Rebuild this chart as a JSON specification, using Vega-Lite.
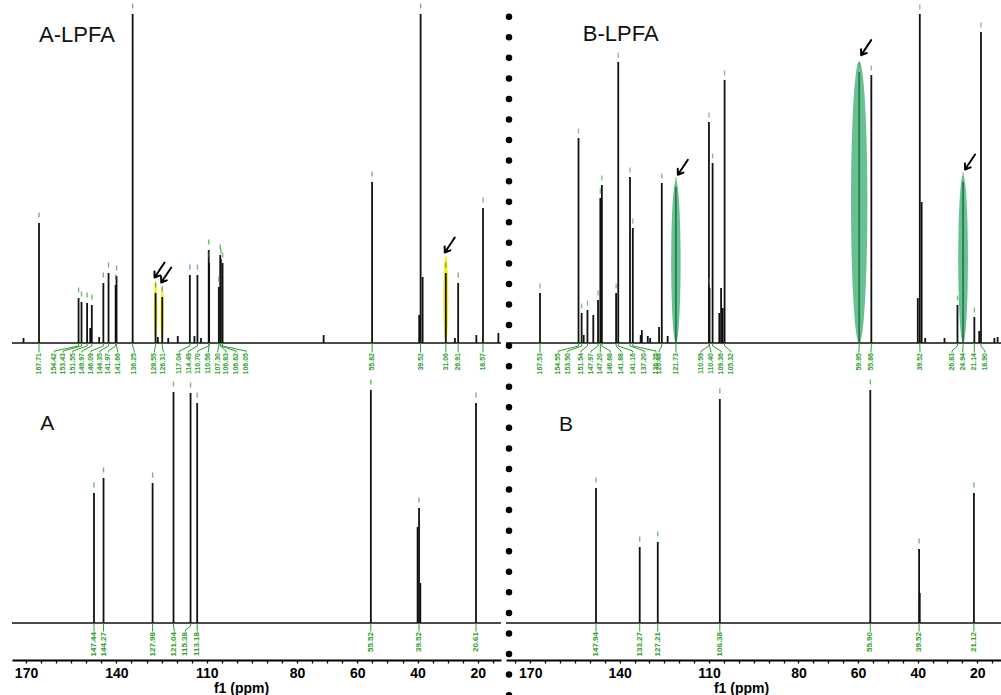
{
"$schema": "https://vega.github.io/schema/vega-lite/v6.json",
"padding": {"left": 11, "top": 0, "right": 0, "bottom": 0},
"background": "white",
"bounds": "flush",
"columns": 2,
"spacing": {"row": 0, "column": 5},
"config": {"view": {"stroke": null}, "font": "Liberation Sans"},
"datasets": {
"tl": [
{"ppm":172.9,"intensity":5},
{"ppm":167.71,"intensity":120,"label":"167.71","label_at":167.71},
{"ppm":154.42,"intensity":45,"label":"154.42","label_at":162.57},
{"ppm":153.43,"intensity":41,"label":"153.43","label_at":159.55},
{"ppm":151.55,"intensity":40,"label":"151.55","label_at":156.39},
{"ppm":150.5,"intensity":15},
{"ppm":149.97,"intensity":38,"label":"149.97","label_at":153.27},
{"ppm":147.5,"intensity":6},
{"ppm":146.09,"intensity":60,"label":"146.09","label_at":150.25},
{"ppm":144.35,"intensity":70,"label":"144.35","label_at":147.22},
{"ppm":141.97,"intensity":58,"label":"141.97","label_at":144.43},
{"ppm":141.66,"intensity":67,"label":"141.66","label_at":141.28},
{"ppm":136.25,"intensity":329,"label":"136.25","label_at":135.7},
{"ppm":128.55,"intensity":50,"label":"128.55","label_at":128.98,"marked":true},
{"ppm":127.8,"intensity":6},
{"ppm":126.31,"intensity":46,"label":"126.31","label_at":125.96,"marked":true},
{"ppm":124.3,"intensity":5},
{"ppm":121.1,"intensity":7},
{"ppm":117.04,"intensity":68,"label":"117.04","label_at":120.6},
{"ppm":115.5,"intensity":7},
{"ppm":114.49,"intensity":68,"label":"114.49","label_at":117.43},
{"ppm":113.3,"intensity":5},
{"ppm":110.70,"intensity":93,"label":"110.70","label_at":114.41},
{"ppm":110.56,"intensity":80,"label":"110.56","label_at":110.85},
{"ppm":107.30,"intensity":56,"label":"107.30","label_at":107.69},
{"ppm":106.83,"intensity":88,"label":"106.83","label_at":104.9},
{"ppm":106.62,"intensity":84,"label":"106.62","label_at":101.54},
{"ppm":106.05,"intensity":80,"label":"106.05","label_at":98.18},
{"ppm":72.1,"intensity":8},
{"ppm":55.82,"intensity":161,"label":"55.82","label_at":55.82},
{"ppm":40.0,"intensity":28},
{"ppm":39.52,"intensity":329,"label":"39.52","label_at":39.52},
{"ppm":38.85,"intensity":66},
{"ppm":31.06,"intensity":70,"label":"31.06","label_at":31.06,"marked":true},
{"ppm":28.0,"intensity":5},
{"ppm":26.91,"intensity":60,"label":"26.91","label_at":26.91},
{"ppm":20.8,"intensity":8},
{"ppm":18.57,"intensity":135,"label":"18.57","label_at":18.57},
{"ppm":13.4,"intensity":10}
],
"tr": [
{"ppm":167.53,"intensity":50,"label":"167.53","label_at":167.53},
{"ppm":154.55,"intensity":205,"label":"154.55","label_at":161.36},
{"ppm":153.50,"intensity":30,"label":"153.50","label_at":158.19},
{"ppm":152.8,"intensity":8},
{"ppm":151.54,"intensity":33,"label":"151.54","label_at":153.71},
{"ppm":149.57,"intensity":28},
{"ppm":147.97,"intensity":43,"label":"147.97","label_at":150.34},
{"ppm":147.20,"intensity":145,"label":"147.20","label_at":147.21},
{"ppm":146.68,"intensity":158,"label":"146.68","label_at":143.84},
{"ppm":141.88,"intensity":50,"label":"141.88","label_at":140.23},
{"ppm":141.16,"intensity":281,"label":"141.16","label_at":136.29},
{"ppm":137.20,"intensity":166,"label":"137.20","label_at":132.38},
{"ppm":136.25,"intensity":115,"label":"136.25","label_at":128.43},
{"ppm":133.6,"intensity":8},
{"ppm":133.2,"intensity":13},
{"ppm":131.2,"intensity":7},
{"ppm":130.4,"intensity":5},
{"ppm":127.4,"intensity":16},
{"ppm":126.48,"intensity":160,"label":"126.48","label_at":127.42},
{"ppm":124.5,"intensity":7},
{"ppm":121.73,"intensity":156,"label":"121.73","label_at":121.69,"marked":true},
{"ppm":110.59,"intensity":221,"label":"110.59","label_at":113.27},
{"ppm":110.40,"intensity":55,"label":"110.40","label_at":109.90},
{"ppm":109.36,"intensity":180,"label":"109.36","label_at":106.53},
{"ppm":107.1,"intensity":30},
{"ppm":106.5,"intensity":55},
{"ppm":105.95,"intensity":35},
{"ppm":105.32,"intensity":263,"label":"105.32","label_at":103.16},
{"ppm":59.95,"intensity":271,"label":"59.95","label_at":60.05,"marked":true},
{"ppm":55.86,"intensity":268,"label":"55.86","label_at":55.97},
{"ppm":40.2,"intensity":45},
{"ppm":39.52,"intensity":329,"label":"39.52","label_at":39.45},
{"ppm":38.9,"intensity":141},
{"ppm":37.7,"intensity":5},
{"ppm":31.2,"intensity":5},
{"ppm":26.83,"intensity":38,"label":"26.83","label_at":28.67},
{"ppm":24.94,"intensity":161,"label":"24.94","label_at":25.06,"marked":true},
{"ppm":21.14,"intensity":26,"label":"21.14","label_at":21.15},
{"ppm":19.5,"intensity":12},
{"ppm":18.90,"intensity":311,"label":"18.90","label_at":17.55},
{"ppm":14.4,"intensity":5},
{"ppm":13.3,"intensity":6}
],
"bl": [
{"ppm":147.44,"intensity":130,"label":"147.44","label_at":147.44},
{"ppm":144.27,"intensity":145,"label":"144.27","label_at":144.27},
{"ppm":127.98,"intensity":140,"label":"127.98","label_at":127.98},
{"ppm":121.04,"intensity":231,"label":"121.04","label_at":120.8},
{"ppm":115.38,"intensity":230,"label":"115.38","label_at":117.1},
{"ppm":113.18,"intensity":220,"label":"113.18","label_at":113.18},
{"ppm":55.52,"intensity":233,"label":"55.52","label_at":55.52},
{"ppm":40.0,"intensity":96},
{"ppm":39.52,"intensity":115,"label":"39.52","label_at":39.52},
{"ppm":39.1,"intensity":40},
{"ppm":20.61,"intensity":220,"label":"20.61","label_at":20.61}
],
"br": [
{"ppm":147.94,"intensity":135,"label":"147.94","label_at":147.94},
{"ppm":133.27,"intensity":76,"label":"133.27","label_at":133.27},
{"ppm":127.21,"intensity":81,"label":"127.21","label_at":127.21},
{"ppm":106.38,"intensity":224,"label":"106.38","label_at":106.38},
{"ppm":55.90,"intensity":233,"label":"55.90","label_at":55.90},
{"ppm":39.52,"intensity":74,"label":"39.52","label_at":39.52},
{"ppm":39.3,"intensity":30},
{"ppm":21.12,"intensity":130,"label":"21.12","label_at":21.12}
]
},
"concat": [
{"width":489,"height":390,"data":{"name":"tl"},"layer":[
{"transform":[{"filter":"datum.marked === true"},{"calculate":"datum.intensity * 1.25","as":"top"}],
 "mark":{"type":"point","shape":"M0,0 C0.032,0 0.058,-0.448 0.058,-1 C0.058,-1.552 0.032,-2 0,-2 C-0.032,-2 -0.058,-1.552 -0.058,-1 C-0.058,-0.448 -0.032,0 0,0 Z","filled":true,"color":"#f0f000","opacity":0.9,"strokeWidth":0},
 "encoding":{"x":{"field":"ppm","type":"quantitative","scale":{"domain":[12.52,176.78],"reverse":true,"nice":false,"zero":false},"axis":null},
  "y":{"datum":0,"type":"quantitative","scale":{"domain":[-47,343],"nice":false,"zero":false},"axis":null},
  "size":{"field":"top","type":"quantitative","scale":{"type":"pow","exponent":2,"domain":[0,300],"range":[0,90000]},"legend":null}}},
{"data":{"values":[{}]},"mark":{"type":"rule","color":"#111","strokeWidth":1.3},
 "encoding":{"y":{"datum":0,"type":"quantitative","scale":{"domain":[-47,343],"nice":false,"zero":false},"axis":null}}},
{"mark":{"type":"rule","color":"#111","strokeWidth":1.8},
 "encoding":{"x":{"field":"ppm","type":"quantitative","scale":{"domain":[12.52,176.78],"reverse":true,"nice":false,"zero":false},"axis":null},
  "y":{"field":"intensity","type":"quantitative","scale":{"domain":[-47,343],"nice":false,"zero":false},"axis":null},"y2":{"datum":0}}},
{"transform":[{"filter":"isValid(datum.label)"}],"mark":{"type":"tick","orient":"vertical","color":"#2f9e2f","size":5,"thickness":1.4,"yOffset":-8},
 "encoding":{"x":{"field":"ppm","type":"quantitative","axis":null},"y":{"field":"intensity","type":"quantitative","axis":null}}},
{"transform":[{"filter":"isValid(datum.label)"}],"mark":{"type":"rule","color":"#2f9e2f","strokeWidth":1},
 "encoding":{"x":{"field":"ppm","type":"quantitative","axis":null},"y":{"datum":0,"type":"quantitative","axis":null},"y2":{"datum":-3}}},
{"transform":[{"filter":"isValid(datum.label)"}],"mark":{"type":"rule","color":"#2f9e2f","strokeWidth":1},
 "encoding":{"x":{"field":"ppm","type":"quantitative","axis":null},"x2":{"field":"label_at"},"y":{"datum":-3,"type":"quantitative","axis":null},"y2":{"datum":-8}}},
{"transform":[{"filter":"isValid(datum.label)"}],"mark":{"type":"rule","color":"#2f9e2f","strokeWidth":1},
 "encoding":{"x":{"field":"label_at","type":"quantitative","axis":null},"y":{"datum":-8,"type":"quantitative","axis":null},"y2":{"datum":-9.5}}},
{"transform":[{"filter":"isValid(datum.label)"}],"mark":{"type":"text","angle":270,"align":"right","baseline":"middle","font":"Liberation Sans Narrow, Liberation Sans","fontWeight":"bold","fontSize":7,"color":"#2f9e2f"},
 "encoding":{"x":{"field":"label_at","type":"quantitative","axis":null},"y":{"datum":-10,"type":"quantitative","axis":null},"text":{"field":"label"}}},
{"transform":[{"filter":"datum.marked === true"},{"calculate":"datum.intensity * 1.25","as":"top"}],
 "mark":{"type":"point","shape":"M1.33,-2 L0,0 M-0.02,-0.8 L0,0 L0.74,-0.29","filled":false,"color":"#000","opacity":1,"strokeWidth":2,"strokeCap":"round","strokeJoin":"round","size":225,"xOffset":-1,"yOffset":-3},
 "encoding":{"x":{"field":"ppm","type":"quantitative","axis":null},"y":{"field":"top","type":"quantitative","axis":null}}},
{"data":{"values":[{"name":"A-LPFA"}]},"mark":{"type":"text","align":"left","baseline":"alphabetic","fontSize":22,"color":"#111"},
 "encoding":{"x":{"datum":167.7,"type":"quantitative","axis":null},"y":{"datum":301,"type":"quantitative","axis":null},"text":{"field":"name"}}}
]},
{"width":496,"height":390,"data":{"name":"tr"},"layer":[
{"data":{"values":[{}]},"mark":{"type":"rule","color":"#111","strokeWidth":1.3},
 "encoding":{"y":{"datum":0,"type":"quantitative","scale":{"domain":[-47,343],"nice":false,"zero":false},"axis":null}}},
{"mark":{"type":"rule","color":"#111","strokeWidth":1.8},
 "encoding":{"x":{"field":"ppm","type":"quantitative","scale":{"domain":[11.82,178.99],"reverse":true,"nice":false,"zero":false},"axis":null},
  "y":{"field":"intensity","type":"quantitative","scale":{"domain":[-47,343],"nice":false,"zero":false},"axis":null},"y2":{"datum":0}}},
{"transform":[{"filter":"datum.marked === true"},{"calculate":"datum.intensity * 1.04","as":"top"}],
 "mark":{"type":"point","shape":"M0,0 C0.032,0 0.058,-0.448 0.058,-1 C0.058,-1.552 0.032,-2 0,-2 C-0.032,-2 -0.058,-1.552 -0.058,-1 C-0.058,-0.448 -0.032,0 0,0 Z","filled":true,"color":"#2fa866","opacity":0.72,"strokeWidth":0},
 "encoding":{"x":{"field":"ppm","type":"quantitative","axis":null},
  "y":{"datum":0,"type":"quantitative","axis":null},
  "size":{"field":"top","type":"quantitative","scale":{"type":"pow","exponent":2,"domain":[0,300],"range":[0,90000]},"legend":null}}},
{"transform":[{"filter":"isValid(datum.label)"}],"mark":{"type":"tick","orient":"vertical","color":"#45b045","size":5,"thickness":1.4,"yOffset":-7},
 "encoding":{"x":{"field":"ppm","type":"quantitative","axis":null},"y":{"field":"intensity","type":"quantitative","axis":null}}},
{"transform":[{"filter":"isValid(datum.label)"}],"mark":{"type":"rule","color":"#2f9e2f","strokeWidth":1},
 "encoding":{"x":{"field":"ppm","type":"quantitative","axis":null},"y":{"datum":0,"type":"quantitative","axis":null},"y2":{"datum":-3}}},
{"transform":[{"filter":"isValid(datum.label)"}],"mark":{"type":"rule","color":"#2f9e2f","strokeWidth":1},
 "encoding":{"x":{"field":"ppm","type":"quantitative","axis":null},"x2":{"field":"label_at"},"y":{"datum":-3,"type":"quantitative","axis":null},"y2":{"datum":-8}}},
{"transform":[{"filter":"isValid(datum.label)"}],"mark":{"type":"rule","color":"#2f9e2f","strokeWidth":1},
 "encoding":{"x":{"field":"label_at","type":"quantitative","axis":null},"y":{"datum":-8,"type":"quantitative","axis":null},"y2":{"datum":-9.5}}},
{"transform":[{"filter":"isValid(datum.label)"}],"mark":{"type":"text","angle":270,"align":"right","baseline":"middle","font":"Liberation Sans Narrow, Liberation Sans","fontWeight":"bold","fontSize":7,"color":"#2f9e2f"},
 "encoding":{"x":{"field":"label_at","type":"quantitative","axis":null},"y":{"datum":-10,"type":"quantitative","axis":null},"text":{"field":"label"}}},
{"transform":[{"filter":"datum.marked === true"},{"calculate":"datum.intensity * 1.04","as":"top"}],
 "mark":{"type":"point","shape":"M1.33,-2 L0,0 M-0.02,-0.8 L0,0 L0.74,-0.29","filled":false,"color":"#000","opacity":1,"strokeWidth":2,"strokeCap":"round","strokeJoin":"round","size":225,"xOffset":2,"yOffset":-6},
 "encoding":{"x":{"field":"ppm","type":"quantitative","axis":null},"y":{"field":"top","type":"quantitative","axis":null}}},
{"data":{"values":[{"name":"B-LPFA"}]},"mark":{"type":"text","align":"left","baseline":"alphabetic","fontSize":22,"color":"#111"},
 "encoding":{"x":{"datum":153.1,"type":"quantitative","axis":null},"y":{"datum":302.3,"type":"quantitative","axis":null},"text":{"field":"name"}}},
{"data":{"values":[{}]},"mark":{"type":"rule","color":"#000","strokeWidth":6.5,"strokeCap":"round","strokeDash":[0,20.56]},
 "encoding":{"x":{"datum":177.98,"type":"quantitative","axis":null},"y":{"datum":326.3,"type":"quantitative","axis":null},"y2":{"datum":-47}}}
]},
{"width":489,"height":270,"data":{"name":"bl"},"resolve":{"axis":{"x":"independent"}},"layer":[
{"data":{"values":[{}]},"mark":{"type":"rule","color":"#111","strokeWidth":1.3},
 "encoding":{"y":{"datum":0,"type":"quantitative","scale":{"domain":[-37,233],"nice":false,"zero":false},"axis":null}}},
{"mark":{"type":"rule","color":"#111","strokeWidth":1.8},
 "encoding":{"x":{"field":"ppm","type":"quantitative","scale":{"domain":[12.31,174.66],"reverse":true,"nice":false,"zero":false},
   "axis":{"orient":"bottom","values":[170,140,110,80,60,40,20],"format":"d","grid":false,"domainColor":"#000","domainWidth":2,"tickColor":"#000","tickWidth":1.3,"tickSize":3,"labelFont":"Liberation Sans","labelFontSize":14,"labelFontWeight":"bold","labelColor":"#000","labelPadding":3,"labelOverlap":false,"labelFlush":false,"title":"f1 (ppm)","titleFont":"Liberation Sans","titleFontSize":14,"titleFontWeight":"bold","titleColor":"#000","titleX":229,"titleY":21,"titleBaseline":"top","titleAlign":"center"}},
  "y":{"field":"intensity","type":"quantitative","scale":{"domain":[-37,233],"nice":false,"zero":false},"axis":null},"y2":{"datum":0}}},
{"transform":[{"filter":"isValid(datum.label)"}],"mark":{"type":"tick","orient":"vertical","color":"#2f9e2f","size":5,"thickness":1.4,"yOffset":-8},
 "encoding":{"x":{"field":"ppm","type":"quantitative","axis":null},"y":{"field":"intensity","type":"quantitative","axis":null}}},
{"transform":[{"filter":"isValid(datum.label)"}],"mark":{"type":"rule","color":"#2f9e2f","strokeWidth":1},
 "encoding":{"x":{"field":"ppm","type":"quantitative",
   "axis":{"orient":"bottom","values":[15,25,30,35,45,50,55,65,70,75,85,90,95,100,105,115,120,125,130,135,145,150,155,160,165],"labels":false,"domain":false,"grid":false,"tickColor":"#000","tickWidth":1.3,"tickSize":3,"title":null}},
  "y":{"datum":0,"type":"quantitative","axis":null},"y2":{"datum":-3}}},
{"transform":[{"filter":"isValid(datum.label)"}],"mark":{"type":"rule","color":"#2f9e2f","strokeWidth":1},
 "encoding":{"x":{"field":"ppm","type":"quantitative","axis":null},"x2":{"field":"label_at"},"y":{"datum":-3,"type":"quantitative","axis":null},"y2":{"datum":-7}}},
{"transform":[{"filter":"isValid(datum.label)"}],"mark":{"type":"rule","color":"#2f9e2f","strokeWidth":1},
 "encoding":{"x":{"field":"label_at","type":"quantitative","axis":null},"y":{"datum":-7,"type":"quantitative","axis":null},"y2":{"datum":-8.5}}},
{"transform":[{"filter":"isValid(datum.label)"}],"mark":{"type":"text","angle":270,"align":"right","baseline":"middle","font":"Liberation Sans Narrow, Liberation Sans","fontWeight":"bold","fontSize":8,"color":"#2f9e2f"},
 "encoding":{"x":{"field":"label_at","type":"quantitative","axis":null},"y":{"datum":-9,"type":"quantitative","axis":null},"text":{"field":"label"}}},
{"data":{"values":[{"name":"A"}]},"mark":{"type":"text","align":"left","baseline":"alphabetic","fontSize":21,"color":"#111"},
 "encoding":{"x":{"datum":165.3,"type":"quantitative","axis":null},"y":{"datum":193,"type":"quantitative","axis":null},"text":{"field":"name"}}}
]},
{"width":496,"height":270,"data":{"name":"br"},"resolve":{"axis":{"x":"independent"}},"layer":[
{"data":{"values":[{}]},"mark":{"type":"rule","color":"#111","strokeWidth":1.3},
 "encoding":{"y":{"datum":0,"type":"quantitative","scale":{"domain":[-37,233],"nice":false,"zero":false},"axis":null}}},
{"mark":{"type":"rule","color":"#111","strokeWidth":1.8},
 "encoding":{"x":{"field":"ppm","type":"quantitative","scale":{"domain":[11.70,178.14],"reverse":true,"nice":false,"zero":false},
   "axis":{"orient":"bottom","values":[170,140,110,80,60,40,20],"format":"d","grid":false,"domainColor":"#000","domainWidth":2,"tickColor":"#000","tickWidth":1.3,"tickSize":3,"labelFont":"Liberation Sans","labelFontSize":14,"labelFontWeight":"bold","labelColor":"#000","labelPadding":3,"labelOverlap":false,"labelFlush":false,"title":"f1 (ppm)","titleFont":"Liberation Sans","titleFontSize":14,"titleFontWeight":"bold","titleColor":"#000","titleX":235,"titleY":21,"titleBaseline":"top","titleAlign":"center"}},
  "y":{"field":"intensity","type":"quantitative","scale":{"domain":[-37,233],"nice":false,"zero":false},"axis":null},"y2":{"datum":0}}},
{"transform":[{"filter":"isValid(datum.label)"}],"mark":{"type":"tick","orient":"vertical","color":"#2f9e2f","size":5,"thickness":1.4,"yOffset":-8},
 "encoding":{"x":{"field":"ppm","type":"quantitative","axis":null},"y":{"field":"intensity","type":"quantitative","axis":null}}},
{"transform":[{"filter":"isValid(datum.label)"}],"mark":{"type":"rule","color":"#2f9e2f","strokeWidth":1},
 "encoding":{"x":{"field":"ppm","type":"quantitative",
   "axis":{"orient":"bottom","values":[15,25,30,35,45,50,55,65,70,75,85,90,95,100,105,115,120,125,130,135,145,150,155,160,165,175],"labels":false,"domain":false,"grid":false,"tickColor":"#000","tickWidth":1.3,"tickSize":3,"title":null}},
  "y":{"datum":0,"type":"quantitative","axis":null},"y2":{"datum":-8.5}}},
{"transform":[{"filter":"isValid(datum.label)"}],"mark":{"type":"text","angle":270,"align":"right","baseline":"middle","font":"Liberation Sans Narrow, Liberation Sans","fontWeight":"bold","fontSize":8,"color":"#2f9e2f"},
 "encoding":{"x":{"field":"label_at","type":"quantitative","axis":null},"y":{"datum":-9,"type":"quantitative","axis":null},"text":{"field":"label"}}},
{"data":{"values":[{"name":"B"}]},"mark":{"type":"text","align":"left","baseline":"alphabetic","fontSize":21,"color":"#111"},
 "encoding":{"x":{"datum":160.36,"type":"quantitative","axis":null},"y":{"datum":192,"type":"quantitative","axis":null},"text":{"field":"name"}}},
{"data":{"values":[{}]},"mark":{"type":"rule","color":"#000","strokeWidth":6.5,"strokeCap":"round","strokeDash":[0,20.56]},
 "encoding":{"x":{"datum":177.13,"type":"quantitative","axis":null},"y":{"datum":215.7,"type":"quantitative","axis":null},"y2":{"datum":-76}}}
]}
]
}
